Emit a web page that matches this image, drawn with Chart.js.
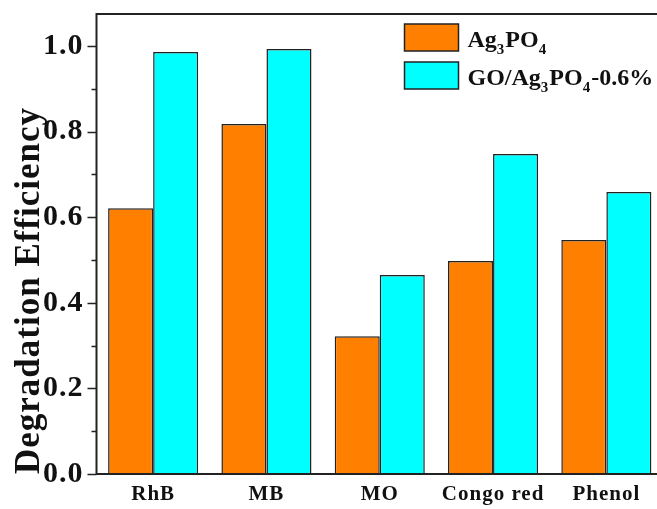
<!DOCTYPE html>
<html>
<head>
<meta charset="utf-8">
<script src="https://cdn.jsdelivr.net/npm/chart.js@4.4.0/dist/chart.umd.min.js"></script>
<style>
  html, body { margin: 0; background: #fff; }
  #wrap { width: 657px; height: 509px; overflow: hidden; }
  #box { width: 666px; height: 509px; position: relative; }
</style>
</head>
<body>
<div id="wrap"><div id="box"><canvas id="chart"></canvas></div></div>
<script>
// data
const categories = ['RhB', 'MB', 'MO', 'Congo red', 'Phenol'];
const ag3po4 = [0.621, 0.818, 0.322, 0.498, 0.547];
const goAg3po4 = [0.986, 0.993, 0.465, 0.748, 0.659];
const seriesLabels = ['Ag₃PO₄', 'GO/Ag₃PO₄-0.6%'];
const seriesColors = ['#ff8000', '#00ffff'];

const FONT = '"Liberation Serif", "Times New Roman", serif';
const SUBS = { '₀': '0', '₁': '1', '₂': '2', '₃': '3', '₄': '4', '₅': '5', '₆': '6', '₇': '7', '₈': '8', '₉': '9' };

// draws text, unicode subscript digits get a real lowered small digit
function drawRich(ctx, text, x, y) {
  for (const ch of text) {
    if (SUBS[ch]) {
      ctx.font = 'bold 15px ' + FONT;
      ctx.fillText(SUBS[ch], x, y + 7);
      x += ctx.measureText(SUBS[ch]).width + 1;
    } else {
      ctx.font = 'bold 24px ' + FONT;
      ctx.fillText(ch, x, y);
      x += ctx.measureText(ch).width;
    }
  }
}

// the original figure uses a wide bold serif, spread the letters a little
const spacingPlugin = {
  id: 'spacing',
  beforeDraw(chart) {
    if ('letterSpacing' in chart.ctx) chart.ctx.letterSpacing = '1px';
  }
};

const framePlugin = {
  id: 'frame',
  afterDatasetsDraw(chart) {
    const { ctx, chartArea: a, scales: { y } } = chart;
    ctx.save();
    if ('letterSpacing' in ctx) ctx.letterSpacing = '0px';
    ctx.strokeStyle = '#222';
    ctx.lineWidth = 2;
    ctx.strokeRect(a.left, a.top, a.right - a.left, a.bottom - a.top);
    // major / minor tick marks on the left axis
    ctx.beginPath();
    y.ticks.forEach(t => {
      const py = Math.round(y.getPixelForValue(t.value)) + 0.5;
      const major = Math.round(t.value * 10) % 2 === 0;
      const len = major ? 9 : 5;
      ctx.moveTo(a.left - len, py);
      ctx.lineTo(a.left, py);
    });
    ctx.lineWidth = 1.5;
    ctx.stroke();

    // legend, top right inside the plot
    const lx = a.left + 308, ly = a.top + 10;
    chart.data.datasets.forEach((ds, i) => {
      const by = ly + i * 38;
      ctx.fillStyle = ds.backgroundColor;
      ctx.fillRect(lx, by, 54, 27);
      ctx.lineWidth = 1.5;
      ctx.strokeStyle = '#222';
      ctx.strokeRect(lx, by, 54, 27);
      ctx.fillStyle = '#111';
      ctx.textBaseline = 'alphabetic';
      drawRich(ctx, ds.label, lx + 63, by + 23);
    });
    ctx.restore();
  }
};

const ctx = document.getElementById('chart').getContext('2d');
new Chart(ctx, {
  type: 'bar',
  data: {
    labels: categories,
    datasets: [
      {
        label: seriesLabels[0],
        data: ag3po4,
        backgroundColor: seriesColors[0],
        borderColor: '#222',
        borderWidth: 1.5,
        barPercentage: 1,
        categoryPercentage: 0.795
      },
      {
        label: seriesLabels[1],
        data: goAg3po4,
        backgroundColor: seriesColors[1],
        borderColor: '#222',
        borderWidth: 1.5,
        barPercentage: 1,
        categoryPercentage: 0.795
      }
    ]
  },
  options: {
    responsive: true,
    maintainAspectRatio: false,
    animation: false,
    layout: { padding: { top: 14, right: 3, left: 0, bottom: 0 } },
    plugins: {
      legend: { display: false }
    },
    scales: {
      x: {
        grid: { display: false, drawTicks: false },
        border: { display: false },
        ticks: {
          color: '#111',
          padding: 8,
          maxRotation: 0,
          font: { family: FONT, size: 21, weight: 'bold' }
        },
        afterFit(s) { s.height = 35; }
      },
      y: {
        min: 0,
        max: 1.075,
        afterBuildTicks(s) { s.ticks = s.ticks.filter(t => t.value <= 1.0001); },
        grid: { display: false, drawTicks: false },
        border: { display: false },
        ticks: {
          stepSize: 0.1,
          includeBounds: false,
          autoSkip: false,
          color: '#111',
          padding: 13,
          font: { family: FONT, size: 30, weight: 'bold' },
          callback(value) {
            const v = Math.round(value * 10);
            return v % 2 === 0 ? (v / 10).toFixed(1) : '';
          }
        },
        title: {
          display: true,
          align: 'start',
          text: 'Degradation Efficiency',
          color: '#111',
          padding: { top: 9, bottom: 0 },
          font: { family: FONT, size: 35, weight: 'bold' }
        },
        afterFit(s) {
          s.width = 96.5;
          s.paddingTop = 0;
          s.paddingBottom = 0;
        }
      }
    }
  },
  plugins: [spacingPlugin, framePlugin]
});
</script>
</body>
</html>
